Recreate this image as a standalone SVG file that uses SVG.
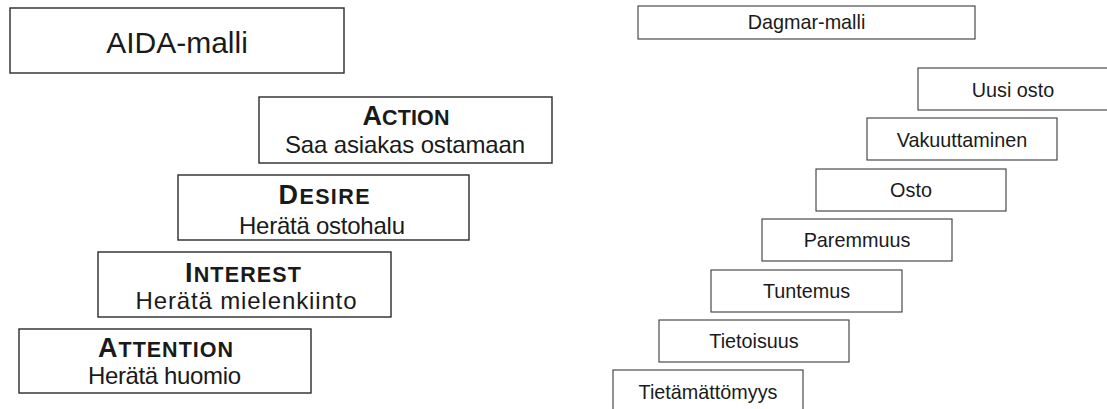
<svg xmlns="http://www.w3.org/2000/svg" width="1107" height="409" viewBox="0 0 1107 409">
<style>
.bg{fill:#ffffff}
.abox{fill:#ffffff;stroke:#2a2a2a;stroke-width:1.4}
.dbox{fill:#ffffff;stroke:#3a3a3a;stroke-width:1.1}
text{font-family:"Liberation Sans",Arial,sans-serif;fill:#1a1a1a;text-anchor:middle}
.title{font-size:30px}
.head{font-weight:bold;font-size:21.5px}
.big{font-size:27px}
.sub{font-size:24px}
.d{font-size:19.8px}
</style>
<rect class="bg" x="0" y="0" width="1107" height="409"/>
<g id="connectors"></g>
<g id="aida-title">
<rect class="abox" x="10" y="8" width="334" height="65"/>
<text class="title" x="177" y="53">AIDA-malli</text>
</g>
<g id="action">
<rect class="abox" x="259" y="97" width="293" height="66"/>
<text class="head" x="406" y="125" textLength="87" lengthAdjust="spacing"><tspan class="big">A</tspan>CTION</text>
<text class="sub" x="405" y="153" textLength="240" lengthAdjust="spacing">Saa asiakas ostamaan</text>
</g>
<g id="desire">
<rect class="abox" x="178" y="175" width="291" height="65"/>
<text class="head" x="324" y="204" textLength="91" lengthAdjust="spacing"><tspan class="big">D</tspan>ESIRE</text>
<text class="sub" x="322" y="234" textLength="166" lengthAdjust="spacing">Herätä ostohalu</text>
</g>
<g id="interest">
<rect class="abox" x="98" y="252" width="293" height="65"/>
<text class="head" x="243" y="282" textLength="116" lengthAdjust="spacing"><tspan class="big">I</tspan>NTEREST</text>
<text class="sub" x="246" y="309" textLength="221" lengthAdjust="spacing">Herätä mielenkiinto</text>
</g>
<g id="attention">
<rect class="abox" x="19" y="329" width="292" height="64"/>
<text class="head" x="165.5" y="357" textLength="135" lengthAdjust="spacing"><tspan class="big">A</tspan>TTENTION</text>
<text class="sub" x="164.5" y="384" textLength="153" lengthAdjust="spacing">Herätä huomio</text>
</g>
<g id="dagmar-title">
<rect class="dbox" x="638" y="6" width="337" height="33"/>
<text class="d" x="806.5" y="29">Dagmar-malli</text>
</g>
<g id="uusi-osto">
<rect class="dbox" x="918" y="68" width="190" height="42"/>
<text class="d" x="1013" y="96.5">Uusi osto</text>
</g>
<g id="vakuuttaminen">
<rect class="dbox" x="867" y="118" width="190" height="42"/>
<text class="d" x="962" y="146.5">Vakuuttaminen</text>
</g>
<g id="osto">
<rect class="dbox" x="816" y="169" width="190" height="42"/>
<text class="d" x="911" y="197">Osto</text>
</g>
<g id="paremmuus">
<rect class="dbox" x="762" y="219" width="190" height="42"/>
<text class="d" x="857" y="247">Paremmuus</text>
</g>
<g id="tuntemus">
<rect class="dbox" x="711" y="270" width="191" height="42"/>
<text class="d" x="806.5" y="298">Tuntemus</text>
</g>
<g id="tietoisuus">
<rect class="dbox" x="659" y="320" width="190" height="42"/>
<text class="d" x="754" y="348">Tietoisuus</text>
</g>
<g id="tietamattomyys">
<rect class="dbox" x="613" y="370" width="190" height="42"/>
<text class="d" x="708" y="399">Tietämättömyys</text>
</g>
</svg>
